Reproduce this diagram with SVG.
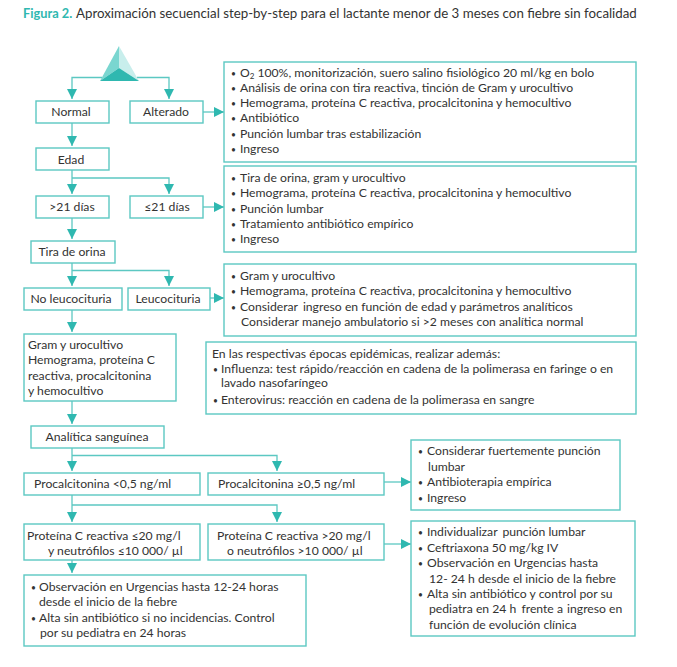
<svg xmlns="http://www.w3.org/2000/svg" width="677" height="667" viewBox="0 0 677 667">
<style>
text{font-family:"Lato","Liberation Sans",sans-serif;font-size:12.2px;fill:#333332}
.u{font-size:8.5px}
.b{fill:#fff;stroke:#5cc8c2;stroke-width:1.4}
.c{fill:none;stroke:#5cc8c2;stroke-width:1.3}
.m{text-anchor:middle}
</style>
<defs><marker id="a" markerUnits="userSpaceOnUse" markerWidth="11" markerHeight="10" refX="10" refY="5" orient="auto"><path d="M0 0L10 5L0 10Z" fill="#2fb8b0"/></marker></defs>
<rect width="677" height="667" fill="#fff"/>
<g id="title"><text x="23" y="18" style="font-size:12.8px;font-weight:700;fill:#2fb8b0">Figura 2.</text><text x="76" y="18" style="font-size:13.3px">Aproximación secuencial step-by-step para el lactante menor de 3 meses con fiebre sin focalidad</text></g>
<g id="connectors">
<path class="c" marker-end="url(#a)" d="M102 77.500H72V99"/>
<path class="c" marker-end="url(#a)" d="M137 77.500H169V99"/>
<path class="c" marker-end="url(#a)" d="M72 123V146"/>
<path class="c" marker-end="url(#a)" d="M72 170V194"/>
<path class="c" marker-end="url(#a)" d="M72 178H169V194"/>
<path class="c" marker-end="url(#a)" d="M72 218V239"/>
<path class="c" marker-end="url(#a)" d="M72 263V286"/>
<path class="c" marker-end="url(#a)" d="M72 270.500H169V286"/>
<path class="c" marker-end="url(#a)" d="M72 310V332"/>
<path class="c" marker-end="url(#a)" d="M72 401V424"/>
<path class="c" marker-end="url(#a)" d="M72 448V471"/>
<path class="c" marker-end="url(#a)" d="M72 455.500H277V471"/>
<path class="c" marker-end="url(#a)" d="M72 495V522"/>
<path class="c" marker-end="url(#a)" d="M72 505H277V522"/>
<path class="c" marker-end="url(#a)" d="M72 560V573"/>
<path class="c" marker-end="url(#a)" d="M203 112H224"/>
<path class="c" marker-end="url(#a)" d="M203 207H224"/>
<path class="c" marker-end="url(#a)" d="M210 298H224"/>
<path class="c" marker-end="url(#a)" d="M384 482H411"/>
<path class="c" marker-end="url(#a)" d="M384 544H411"/>
</g>
<g id="triangle"><path d="M119 46L100 81L119 68Z" fill="#7ad6d0"/><path d="M119 46L139 81L119 68Z" fill="#c8eeec"/><path d="M100 81L119 68L139 81Z" fill="#2fb8b0"/></g>
<g id="normal"><rect class="b" x="36" y="101" width="73" height="22"/><text class="m" x="71" y="116">Normal</text></g>
<g id="alterado"><rect class="b" x="130" y="101" width="73" height="22"/><text class="m" x="166" y="116">Alterado</text></g>
<g id="edad"><rect class="b" x="36" y="148" width="73" height="22"/><text class="m" x="71" y="164">Edad</text></g>
<g id="mayor21"><rect class="b" x="36" y="196" width="73" height="22"/><text class="m" x="72" y="211">&gt;21 días</text></g>
<g id="menor21"><rect class="b" x="130" y="196" width="73" height="22"/><text class="m" x="167" y="211">≤21 días</text></g>
<g id="tira"><rect class="b" x="31" y="241" width="84" height="22"/><text class="m" x="72" y="256">Tira de orina</text></g>
<g id="noleuco"><rect class="b" x="24" y="288" width="98" height="22"/><text class="m" x="71" y="303">No leucocituria</text></g>
<g id="leuco"><rect class="b" x="128" y="288" width="82" height="22"/><text class="m" x="168" y="303">Leucocituria</text></g>
<g id="gram"><rect class="b" x="24" y="334" width="152" height="67"/><text x="28" y="349">Gram y urocultivo</text><text x="28" y="364">Hemograma, proteína C</text><text x="28" y="380">reactiva, procalcitonina</text><text x="28" y="395">y hemocultivo</text></g>
<g id="analitica"><rect class="b" x="31" y="426" width="133" height="22"/><text class="m" x="97" y="441">Analítica sanguínea</text></g>
<g id="pct-baja"><rect class="b" x="24" y="473" width="176" height="22"/><text x="34" y="488">Procalcitonina &lt;0,5 ng/ml</text></g>
<g id="pct-alta"><rect class="b" x="208" y="473" width="176" height="22"/><text x="218" y="488">Procalcitonina ≥0,5 ng/ml</text></g>
<g id="pcr-baja"><rect class="b" x="24" y="524" width="176" height="36"/><text x="27" y="540">Proteína C reactiva ≤20 mg/l</text><text x="48" y="555">y neutrófilos ≤10 000/ µl</text></g>
<g id="pcr-alta"><rect class="b" x="208" y="524" width="176" height="36"/><text x="217" y="540">Proteína C reactiva &gt;20 mg/l</text><text x="227" y="555">o neutrófilos &gt;10 000/ µl</text></g>
<g id="observacion"><rect class="b" x="24" y="575" width="282" height="71"/><text class="u" x="31" y="591">•</text><text x="39" y="591">Observación en Urgencias hasta 12-24 horas</text><text x="39" y="606">desde el inicio de la fiebre</text><text class="u" x="31" y="622">•</text><text x="39" y="622">Alta sin antibiótico si no incidencias. Control</text><text x="40" y="637">por su pediatra en 24 horas</text></g>
<g id="box-alterado"><rect class="b" x="224" y="62" width="412" height="100"/>
<text class="u" x="231" y="77">•</text><text x="240" y="77">O<tspan font-size="8" dy="2">2</tspan><tspan dy="-2" dx="3">100%, monitorización, suero salino fisiológico 20 ml/kg en bolo</tspan></text>
<text class="u" x="231" y="92">•</text><text x="240" y="92">Análisis de orina con tira reactiva, tinción de Gram y urocultivo</text>
<text class="u" x="231" y="107">•</text><text x="240" y="107">Hemograma, proteína C reactiva, procalcitonina y hemocultivo</text>
<text class="u" x="231" y="122">•</text><text x="240" y="122">Antibiótico</text>
<text class="u" x="231" y="138">•</text><text x="240" y="138">Punción lumbar tras estabilización</text>
<text class="u" x="231" y="153">•</text><text x="240" y="153">Ingreso</text></g>
<g id="box-21"><rect class="b" x="224" y="166" width="412" height="86"/>
<text class="u" x="231" y="182">•</text><text x="240" y="182">Tira de orina, gram y urocultivo</text>
<text class="u" x="231" y="197">•</text><text x="240" y="197">Hemograma, proteína C reactiva, procalcitonina y hemocultivo</text>
<text class="u" x="231" y="213">•</text><text x="240" y="213">Punción lumbar</text>
<text class="u" x="231" y="228">•</text><text x="240" y="228">Tratamiento antibiótico empírico</text>
<text class="u" x="231" y="243">•</text><text x="240" y="243">Ingreso</text></g>
<g id="box-leuco"><rect class="b" x="224" y="264" width="412" height="72"/>
<text class="u" x="231" y="280">•</text><text x="240" y="280">Gram y urocultivo</text>
<text class="u" x="231" y="295">•</text><text x="240" y="295">Hemograma, proteína C reactiva, procalcitonina y hemocultivo</text>
<text class="u" x="231" y="311">•</text><text x="240" y="311">Considerar <tspan dx="2">ingreso en función de edad y parámetros analíticos</tspan></text>
<text x="241" y="326">Considerar manejo ambulatorio si &gt;2 meses con analítica normal</text></g>
<g id="box-epidemia"><rect class="b" x="206" y="342" width="430" height="72"/>
<text x="212" y="358">En las respectivas épocas epidémicas, realizar además:</text>
<text class="u" x="213" y="373">•</text><text x="221" y="373">Influenza: test rápido/reacción en cadena de la polimerasa en faringe o en</text>
<text x="221" y="387">lavado nasofaríngeo</text>
<text class="u" x="213" y="404">•</text><text x="221" y="404">Enterovirus: reacción en cadena de la polimerasa en sangre</text></g>
<g id="box-pct"><rect class="b" x="411" y="440" width="209" height="70"/>
<text class="u" x="418" y="455">•</text><text x="427" y="455">Considerar fuertemente punción</text>
<text x="428" y="471">lumbar</text>
<text class="u" x="418" y="486">•</text><text x="427" y="486">Antibioterapia empírica</text>
<text class="u" x="418" y="502">•</text><text x="427" y="502">Ingreso</text></g>
<g id="box-pcr"><rect class="b" x="411" y="521" width="224" height="115"/>
<text class="u" x="418" y="536">•</text><text x="427" y="536">Individualizar <tspan dx="2">punción lumbar</tspan></text>
<text class="u" x="418" y="552">•</text><text x="427" y="552">Ceftriaxona 50 mg/kg IV</text>
<text class="u" x="418" y="567">•</text><text x="427" y="567">Observación en Urgencias hasta</text>
<text x="429" y="583">12- 24 h desde el inicio de la fiebre</text>
<text class="u" x="418" y="598">•</text><text x="427" y="598">Alta sin antibiótico y control por su</text>
<text x="429" y="613">pediatra en 24 h <tspan dx="2">frente a </tspan><tspan dx="1">ingreso en</tspan></text>
<text x="429" y="629">función de evolución clínica</text></g>
</svg>
